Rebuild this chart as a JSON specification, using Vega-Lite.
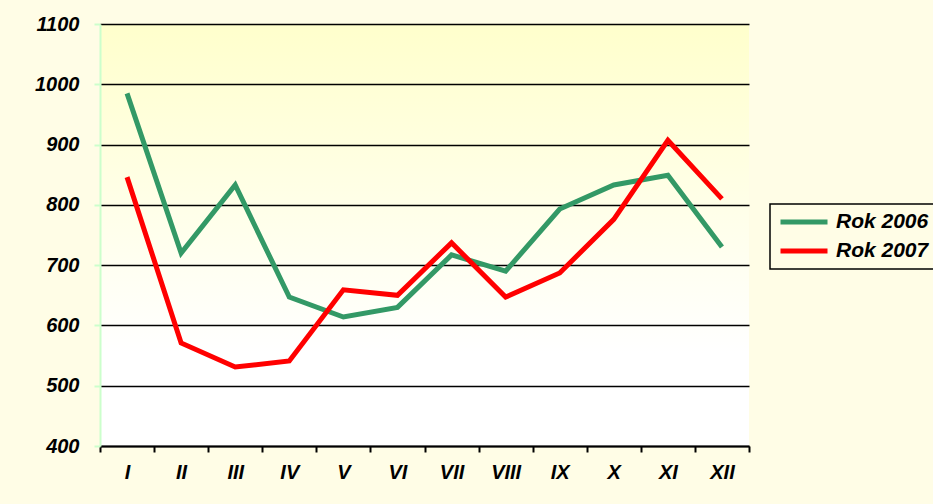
{
  "$schema": "https://vega.github.io/schema/vega-lite/v6.json",
  "width": 649,
  "height": 422,
  "autosize": "none",
  "padding": {"left": 100, "top": 24, "right": 184, "bottom": 58},
  "background": "#fffde6",
  "config": {
    "view": {
      "stroke": null,
      "fill": {
        "gradient": "linear",
        "x1": 0, "y1": 0, "x2": 0, "y2": 1,
        "stops": [
          {"offset": 0, "color": "#ffffcc"},
          {"offset": 0.78, "color": "#ffffff"},
          {"offset": 1, "color": "#ffffff"}
        ]
      }
    },
    "font": "Liberation Sans"
  },
  "data": {
    "values": [
      {"month": "I", "series": "Rok 2006", "value": 985},
      {"month": "II", "series": "Rok 2006", "value": 720},
      {"month": "III", "series": "Rok 2006", "value": 833},
      {"month": "IV", "series": "Rok 2006", "value": 647},
      {"month": "V", "series": "Rok 2006", "value": 614},
      {"month": "VI", "series": "Rok 2006", "value": 630},
      {"month": "VII", "series": "Rok 2006", "value": 717},
      {"month": "VIII", "series": "Rok 2006", "value": 690},
      {"month": "IX", "series": "Rok 2006", "value": 793},
      {"month": "X", "series": "Rok 2006", "value": 833},
      {"month": "XI", "series": "Rok 2006", "value": 849},
      {"month": "XII", "series": "Rok 2006", "value": 730},
      {"month": "I", "series": "Rok 2007", "value": 846},
      {"month": "II", "series": "Rok 2007", "value": 571},
      {"month": "III", "series": "Rok 2007", "value": 531},
      {"month": "IV", "series": "Rok 2007", "value": 541},
      {"month": "V", "series": "Rok 2007", "value": 659},
      {"month": "VI", "series": "Rok 2007", "value": 650},
      {"month": "VII", "series": "Rok 2007", "value": 737},
      {"month": "VIII", "series": "Rok 2007", "value": 647},
      {"month": "IX", "series": "Rok 2007", "value": 687},
      {"month": "X", "series": "Rok 2007", "value": 776},
      {"month": "XI", "series": "Rok 2007", "value": 907},
      {"month": "XII", "series": "Rok 2007", "value": 810}
    ]
  },
  "mark": {"type": "line", "strokeWidth": 5, "strokeJoin": "miter", "strokeCap": "butt"},
  "encoding": {
    "x": {
      "field": "month",
      "type": "ordinal",
      "sort": ["I","II","III","IV","V","VI","VII","VIII","IX","X","XI","XII"],
      "scale": {"type": "band", "paddingInner": 0, "paddingOuter": 0},
      "bandPosition": 0.5,
      "axis": {
        "title": null,
        "labelAngle": 0,
        "domainColor": "#000000",
        "domainWidth": 2,
        "tickColor": "#000000",
        "tickWidth": 2,
        "tickSize": 6,
        "tickBand": "extent",
        "labelPadding": 10,
        "labelFont": "Liberation Sans",
        "labelFontSize": 20,
        "labelFontWeight": "bold",
        "labelFontStyle": "italic",
        "labelColor": "#000000",
        "grid": false
      }
    },
    "y": {
      "field": "value",
      "type": "quantitative",
      "scale": {"domain": [400, 1100], "nice": false, "zero": false},
      "axis": {
        "title": null,
        "format": "d",
        "values": [400, 500, 600, 700, 800, 900, 1000, 1100],
        "domainColor": "#ccffcc",
        "domainWidth": 2,
        "tickColor": "#ccffcc",
        "tickWidth": 2,
        "tickSize": 6,
        "labelPadding": 15,
        "labelFont": "Liberation Sans",
        "labelFontSize": 20,
        "labelFontWeight": "bold",
        "labelFontStyle": "italic",
        "labelColor": "#000000",
        "grid": true,
        "gridColor": "#000000",
        "gridWidth": 1.5
      }
    },
    "color": {
      "field": "series",
      "type": "nominal",
      "scale": {"domain": ["Rok 2006", "Rok 2007"], "range": ["#339966", "#ff0000"]},
      "legend": {
        "title": null,
        "orient": "none",
        "legendX": 670,
        "legendY": 180,
        "symbolType": "stroke",
        "symbolStrokeWidth": 5,
        "symbolSize": 2209,
        "clipHeight": 20,
        "labelFont": "Liberation Sans",
        "labelFontSize": 21,
        "labelFontWeight": "bold",
        "labelFontStyle": "italic",
        "labelColor": "#000000",
        "labelOffset": 6,
        "rowPadding": 8,
        "strokeColor": "#000000",
        "padding": 8,
        "fillColor": "#fffde6",
        "encode": {"legend": {"update": {"strokeWidth": {"value": 1.5}}}}
      }
    }
  }
}
